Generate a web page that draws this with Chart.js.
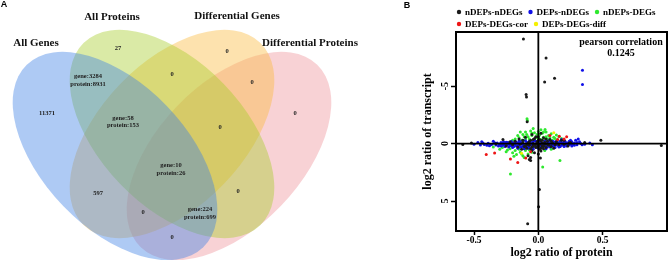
<!DOCTYPE html>
<html><head><meta charset="utf-8">
<script src="https://cdn.jsdelivr.net/npm/chart.js@4.4.1/dist/chart.umd.min.js"></script>
<style>
html,body{margin:0;padding:0;background:#fff;}
#wrap{position:relative;width:671px;height:260px;overflow:hidden;background:#fff;}
canvas{position:absolute;top:0;}
#cA{left:0;} #cB{left:340px;}
</style></head><body>
<div id="wrap"><canvas id="cA" width="360" height="260"></canvas><canvas id="cB" width="331" height="260"></canvas></div>
<script>
// ================= Panel A : Venn data =================
const vennSets = ['All Genes', 'All Proteins', 'Differential Genes', 'Differential Proteins'];
const vennRegionText = [
  ['11371'], ['27'], ['0'], ['0'],
  ['gene:3284', 'protein:8931'], ['0'], ['0'],
  ['gene:58', 'protein:153'], ['0'],
  ['gene:10', 'protein:26'],
  ['597'], ['0'], ['0'],
  ['gene:224', 'protein:699'], ['0']
];
// ================= Panel B : scatter data =================
const seriesNames = ['nDEPs-nDEGs', 'DEPs-nDEGs', 'nDEPs-DEGs', 'DEPs-DEGs-cor', 'DEPs-DEGs-diff'];
const nDEPs_nDEGs = [
  [-0.116,-9.1],[0.06,-7.45],[0.049,-5.36],[0.126,-5.68],[-0.095,-4.26],[-0.092,-4.06],
  [-0.087,-1.9],[0.486,-0.29],[0.956,0.17],[-0.587,0.09],[-0.07,1.39],[-0.06,1.48],[0.016,1.25],
  [0.008,4.0],[-0.083,6.96],[0.002,5.5],[-0.275,-0.35],[-0.33,0.02],[-0.52,-0.05],[0.36,-0.1],
  [-0.2,0.1],[-0.18,-0.2],[-0.16,0.3],[-0.15,-0.4],[-0.14,0.05],[-0.13,0.5],[-0.12,-0.1],[-0.11,0.25],
  [-0.1,-0.55],[-0.09,0.4],[-0.08,-0.05],[-0.07,0.15],[-0.06,-0.3],[-0.05,0.6],[-0.04,0.0],[-0.03,-0.45],
  [-0.02,0.35],[-0.01,-0.15],[0.0,0.1],[0.0,-0.6],[0.01,0.5],[0.02,-0.25],[0.03,0.2],[0.04,-0.5],
  [0.05,0.05],[0.06,0.35],[0.07,-0.2],[0.08,0.15],[0.09,-0.35],[0.1,0.25],[0.11,-0.05],[0.12,0.4],
  [0.14,-0.15],[0.16,0.1],[0.18,-0.3],[0.2,0.05],[-0.03,0.8],[0.0,0.9],[-0.05,-0.8],[0.02,-0.9],
  [-0.25,0.2],[-0.22,-0.15],[0.23,0.2],[0.25,-0.1],[-0.01,0.3],[0.01,-0.35],[-0.02,0.05],[0.03,-0.05],
  [-0.04,0.2],[0.04,0.25],[-0.08,1.05],[-0.06,1.2],
  [-0.09,0.1],[-0.07,-0.15],[-0.05,0.3],[-0.03,0.15],[-0.01,-0.05],[0.0,0.25],[0.01,0.05],[0.02,0.4],
  [0.03,-0.3],[0.05,-0.1],[0.06,-0.4],[0.07,0.05],[-0.06,0.45],[-0.04,-0.35],[-0.02,-0.6],[0.0,-0.3],
  [0.02,0.65],[0.04,0.45],[-0.1,0.2],[-0.12,-0.3],[0.1,-0.2],[0.13,0.1],[0.2,-0.3],[0.24,-0.05]
];
const DEPs_nDEGs = [
  [0.343,-6.37],[0.343,-5.13],
  [-0.50,0.05],[-0.47,-0.1],[-0.45,0.12],[-0.44,-0.15],[-0.43,-0.05],[-0.42,0.08],[-0.40,0.15],[-0.39,-0.02],
  [-0.38,0.18],[-0.37,0.1],[-0.36,0.05],[-0.35,-0.2],[-0.34,-0.08],[-0.33,0.12],[-0.31,0.2],[-0.30,0.05],
  [-0.29,-0.1],[-0.28,0.15],[-0.27,0.02],[-0.26,0.25],[-0.25,-0.12],[-0.24,0.08],[-0.23,0.3],[-0.22,-0.05],
  [-0.21,0.18],[-0.20,0.35],[-0.19,0.0],[-0.18,-0.2],[-0.17,0.22],[-0.16,0.4],[-0.15,0.1],[-0.14,-0.15],
  [-0.13,0.3],[-0.12,0.05],[-0.11,0.45],[-0.10,-0.25],[-0.09,0.2],[-0.08,0.0],[-0.07,0.35],[-0.06,-0.1],
  [-0.05,0.15],[-0.04,0.5],[-0.03,-0.3],[-0.02,0.25],[-0.01,0.05],[0.0,0.4],[0.01,-0.2],[0.02,0.15],
  [0.03,0.3],[0.04,-0.05],[0.05,0.2],[0.06,0.45],[0.07,-0.15],[0.08,0.1],[0.09,0.3],[0.10,-0.1],
  [0.11,0.2],[0.12,0.05],[0.13,0.35],[0.14,-0.2],[0.15,0.15],[0.16,0.0],[0.17,0.25],[0.18,-0.1],
  [0.19,0.1],[0.20,-0.25],[0.21,0.05],[0.22,0.2],[0.23,-0.05],[0.24,0.1],[0.26,-0.15],[0.27,0.05],
  [0.29,-0.3],[0.30,-0.1],[0.31,-0.4],[0.33,0.0],[0.36,0.05],[0.40,-0.05],[0.42,0.1],
  [-0.32,-0.05],[-0.28,-0.02],[-0.24,-0.1],[-0.2,0.15],[-0.16,-0.05],[-0.12,0.2],[-0.08,0.25],[-0.04,-0.15],
  [0.0,0.0],[0.04,0.15],[0.08,-0.05],[0.12,-0.15],[0.16,0.2],[0.2,0.1],[0.24,-0.2],[0.28,0.15],
  [-0.3,0.1],[-0.29,0.22],[-0.27,-0.15],[-0.26,0.05],[-0.25,0.12],[-0.23,-0.08],[-0.22,0.15],[-0.21,-0.18],
  [-0.2,-0.05],[-0.19,0.25],[-0.18,0.08],[-0.17,-0.1],[-0.16,0.18],[-0.15,-0.22],[-0.14,0.3],[-0.13,0.0],
  [-0.12,-0.28],[-0.11,0.1],[-0.1,0.3],[-0.09,-0.12],[-0.08,0.4],[-0.07,-0.2],[-0.06,0.12],[-0.05,-0.05],
  [-0.04,0.3],[-0.03,0.1],[-0.02,-0.2],[-0.01,0.2],[0.01,0.3],[0.02,-0.1],[0.03,0.1],[0.05,-0.2],
  [0.06,0.1],[0.07,0.3],[0.08,-0.25],[0.09,0.05],[0.1,0.15],[0.11,-0.2],[0.12,0.25],[0.13,-0.05],
  [0.14,0.1],[0.15,-0.1],[0.16,0.3],[0.17,-0.2],[0.18,0.15],[0.19,-0.05],[0.2,0.25],[0.21,-0.15],
  [0.22,0.0],[0.23,0.15],[0.25,0.05],[0.26,0.2],[0.28,-0.05],[0.3,0.1],[0.32,-0.15],[0.34,0.1],
  [0.25,-0.3],[0.18,-0.35],[-0.23,0.0],[-0.27,0.1]
];
const nDEPs_DEGs = [
  [-0.088,-2.15],[-0.085,-2.0],[0.052,-1.23],[-0.217,2.64],[0.034,2.03],[0.168,1.48],
  [-0.15,-0.5],[-0.12,-0.8],[-0.1,-1.0],[-0.08,-0.6],[-0.06,-1.1],[-0.05,-0.7],[-0.03,-0.95],[-0.02,-0.5],
  [0.0,-1.05],[0.01,-0.75],[0.03,-0.9],[0.04,-0.55],[0.06,-1.0],[0.08,-0.7],[0.1,-0.85],[0.12,-0.55],
  [0.14,-0.75],[0.16,-0.6],[0.18,-0.45],[-0.18,-0.4],[-0.2,-0.3],[-0.1,-0.4],[0.05,-0.35],[-0.04,-1.3],
  [0.02,-1.2],[-0.3,0.5],[-0.25,0.7],[-0.2,0.8],[-0.17,0.95],[-0.14,0.75],[-0.12,1.05],[-0.1,0.6],
  [-0.08,0.9],[-0.15,0.5],[-0.22,0.45],[-0.05,0.75],[-0.28,0.35],[-0.35,0.3],[0.05,0.6],[0.1,0.5],
  [-0.11,1.2],[-0.19,1.1],
  [-0.13,-0.3],[-0.11,-0.6],[-0.09,-0.8],[-0.07,-0.4],[-0.05,-0.9],[-0.03,-0.3],[-0.01,-0.8],[0.0,-0.5],
  [0.02,-0.35],[0.04,-1.0],[0.06,-0.6],[0.07,-0.4],[0.09,-0.5],[0.11,-0.3],[0.13,-0.45],[0.15,-0.3],
  [-0.16,-0.7],[-0.14,-1.0],[-0.24,0.55],[-0.18,0.6],[-0.13,0.9],[-0.07,0.55]
];
const DEPs_DEGs_cor = [
  [-0.405,0.96],[-0.34,0.81],[-0.217,1.33],[-0.16,1.65],[-0.098,1.25],[0.09,-0.7],[0.163,-0.64],
  [0.22,-0.6],[0.2,-0.4],[-0.06,0.7],[0.15,-0.35]
];
const DEPs_DEGs_diff = [[0.12,-0.95],[-0.13,0.85]];
const xTicks = [-0.5, 0, 0.5];
const xTickLabels = ['-0.5', '0.0', '0.5'];
const yTicks = [-5, 0, 5];
const yTickLabels = ['-5', '0', '5'];
const pearsonLabel = 'pearson correlation';
const pearsonValue = '0.1245';

// ================= Panel A geometry & styles =================
const vennShapes = [
  {cx:115, cy:156, a:127, b:72, rot:46,  fill:'rgba(62,128,228,0.42)'},
  {cx:172, cy:134, a:127, b:72, rot:46,  fill:'rgba(168,204,44,0.42)'},
  {cx:172, cy:134, a:127, b:72, rot:134, fill:'rgba(251,186,62,0.42)'},
  {cx:229, cy:156, a:127, b:72, rot:134, fill:'rgba(239,148,155,0.42)'}
];
const vennDrawOrder = [3, 2, 1, 0];
const vennSetPos = [[36,43],[112,17],[237,16],[310,43]];
const vennRegionPos = [[47,113],[118,48],[227,51],[295,113],[88,80.5],[172,74],[252,82],[123,122],[220,127],
  [171,169.5],[98,193],[238,191],[143,212],[200,213.5],[172,237]];
const SERIF = '"Liberation Serif", "Times New Roman", serif';

const vennPlugin = {
  id: 'venn',
  afterDraw(chart) {
    const {ctx, scales: {x, y}} = chart;
    const k = (x.getPixelForValue(100) - x.getPixelForValue(0)) / 100;
    ctx.save();
    vennDrawOrder.forEach(i => {
      const e = vennShapes[i];
      ctx.beginPath();
      ctx.ellipse(x.getPixelForValue(e.cx), y.getPixelForValue(e.cy), e.a * k, e.b * k, e.rot * Math.PI / 180, 0, 2 * Math.PI);
      ctx.fillStyle = e.fill;
      ctx.fill();
    });
    ctx.fillStyle = '#111';
    ctx.textAlign = 'center'; ctx.textBaseline = 'middle';
    ctx.font = 'bold 11px ' + SERIF;
    vennSets.forEach((t, i) => ctx.fillText(t, x.getPixelForValue(vennSetPos[i][0]), y.getPixelForValue(vennSetPos[i][1])));
    ctx.font = 'bold 6.5px ' + SERIF;
    ctx.fillStyle = '#222';
    vennRegionText.forEach((lines, i) => {
      const px = x.getPixelForValue(vennRegionPos[i][0]);
      const py = y.getPixelForValue(vennRegionPos[i][1]);
      lines.forEach((l, j) => ctx.fillText(l, px, py + (j - (lines.length - 1) / 2) * 7.5));
    });
    ctx.font = 'bold 9px "Liberation Sans", Arial, sans-serif';
    ctx.fillStyle = '#000';
    ctx.fillText('A', 4, 5);
    ctx.restore();
  }
};

new Chart(document.getElementById('cA'), {
  type: 'scatter',
  data: {datasets: []},
  options: {
    responsive: false, animation: false,
    layout: {padding: 0},
    plugins: {legend: {display: false}, tooltip: {enabled: false}},
    scales: {
      x: {type: 'linear', min: 0, max: 360, display: false},
      y: {type: 'linear', min: 0, max: 260, reverse: true, display: false}
    }
  },
  plugins: [vennPlugin]
});

// ================= Panel B =================
const colors = ['#1a1a1a', '#1010e8', '#2ee82e', '#ee1515', '#f5f000'];
const seriesData = [nDEPs_nDEGs, DEPs_nDEGs, nDEPs_DEGs, DEPs_DEGs_cor, DEPs_DEGs_diff];
const drawOrder = [2, 3, 4, 1, 0];

const panelBPlugin = {
  id: 'panelB',
  afterDatasetsDraw(chart) {
    const {ctx, chartArea: ca, scales: {x, y}} = chart;
    ctx.save();
    ctx.strokeStyle = '#000';
    ctx.lineWidth = 1.8;
    const x0 = x.getPixelForValue(0), y0 = y.getPixelForValue(0);
    ctx.beginPath();
    ctx.moveTo(x0, ca.top); ctx.lineTo(x0, ca.bottom);
    ctx.moveTo(ca.left, y0); ctx.lineTo(ca.right, y0);
    ctx.stroke();
    ctx.lineWidth = 2;
    ctx.strokeRect(ca.left, ca.top, ca.width, ca.height);
    // correlation text
    ctx.fillStyle = '#000';
    ctx.font = 'bold 10px ' + SERIF;
    ctx.textAlign = 'center'; ctx.textBaseline = 'middle';
    ctx.fillText(pearsonLabel, ca.right - 46, 42);
    ctx.fillText(pearsonValue, ca.right - 46, 53);
    // legend
    ctx.font = 'bold 9px ' + SERIF;
    ctx.textAlign = 'left';
    let lx = ca.left + 3, ly = 12;
    chart.data.datasets.forEach((ds, i) => {
      if (i === 3) { lx = ca.left + 3; ly = 24; }
      ctx.fillStyle = ds.backgroundColor;
      ctx.beginPath(); ctx.arc(lx, ly, 2.2, 0, 2 * Math.PI); ctx.fill();
      ctx.fillStyle = '#000';
      ctx.fillText(ds.label, lx + 6, ly + 0.5);
      lx += 6 + ctx.measureText(ds.label).width + 8;
    });
    // panel letter
    ctx.font = 'bold 9px "Liberation Sans", Arial, sans-serif';
    ctx.textAlign = 'center';
    ctx.fillText('B', 67, 6);
    ctx.restore();
  }
};

new Chart(document.getElementById('cB'), {
  type: 'scatter',
  data: {
    datasets: seriesNames.map((n, i) => ({
      label: n,
      data: seriesData[i].map(p => ({x: p[0], y: p[1]})),
      backgroundColor: colors[i],
      borderWidth: 0,
      pointRadius: 1.5,
      order: drawOrder[i]
    }))
  },
  options: {
    responsive: false, animation: false,
    layout: {padding: {left: 76, right: 2, top: 32, bottom: 0}},
    plugins: {legend: {display: false}, tooltip: {enabled: false}},
    scales: {
      x: {
        type: 'linear', min: -0.64, max: 1.0,
        afterBuildTicks: s => { s.ticks = xTicks.map(v => ({value: v})); },
        afterFit: s => { s.height = 29; },
        ticks: {callback: (v, i) => xTickLabels[i], color: '#000', padding: 0,
          font: {family: SERIF, size: 9.5, weight: 'bold'}},
        grid: {display: true, drawOnChartArea: false, tickLength: 4, tickColor: '#000', tickWidth: 1.5},
        border: {display: true, color: '#000', width: 2},
        title: {display: true, text: 'log2 ratio of protein', color: '#000', padding: {top: 0, bottom: 0},
          font: {family: SERIF, size: 12, weight: 'bold'}}
      },
      y: {
        type: 'linear', min: -9.7, max: 7.6, reverse: true,
        afterBuildTicks: s => { s.ticks = yTicks.map(v => ({value: v})); },
        afterFit: s => { s.width = 40; },
        ticks: {callback: (v, i) => yTickLabels[i], color: '#000', padding: 1, minRotation: 90, maxRotation: 90,
          crossAlign: 'center', font: {family: SERIF, size: 10, weight: 'bold'}},
        grid: {display: true, drawOnChartArea: false, tickLength: 5, tickColor: '#000', tickWidth: 1.5},
        border: {display: true, color: '#000', width: 2},
        title: {display: true, text: 'log2 ratio of transcript', color: '#000', padding: {top: 5, bottom: 0},
          font: {family: SERIF, size: 12, weight: 'bold'}}
      }
    }
  },
  plugins: [panelBPlugin]
});
</script>
</body></html>
